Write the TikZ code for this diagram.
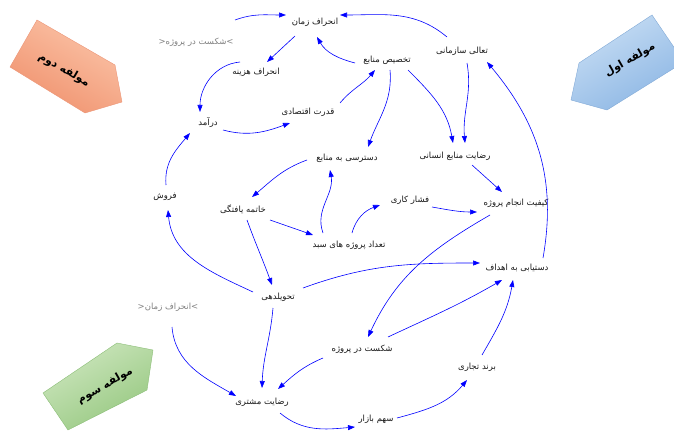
\documentclass[tikz,border=0pt]{standalone}
\usepackage{fontspec}
\setmainfont{DejaVu Sans}
\newfontfamily\arabicfont[Script=Arabic]{DejaVu Sans}
\TeXXeTstate=1
\usetikzlibrary{arrows.meta}
\definecolor{orL}{RGB}{251,196,168}
\definecolor{orD}{RGB}{240,146,110}
\definecolor{orB}{RGB}{236,150,120}
\definecolor{blL}{RGB}{200,222,244}
\definecolor{blD}{RGB}{140,182,228}
\definecolor{blB}{RGB}{130,170,215}
\definecolor{grL}{RGB}{205,230,190}
\definecolor{grD}{RGB}{150,200,128}
\definecolor{grB}{RGB}{140,190,120}
\begin{document}
\begin{tikzpicture}[x=1pt,y=1pt,
  var/.style={font=\arabicfont\fontsize{8.5}{10}\selectfont, text=black!90, inner sep=1pt},
  shadowvar/.style={var, text=black!50},
  comp/.style={font=\arabicfont\bfseries\fontsize{11}{13}\selectfont, text=black, inner sep=0pt},
  link/.style={draw=blue, line width=0.6pt, -{Triangle[length=7pt,width=5pt]}}]
\useasboundingbox (0,0) rectangle (674,-433);
\begin{scope}
\clip (0,0) rectangle (674,-433);
\shade[draw=orB, top color=orL, bottom color=orD, shading angle=-30]
  (37,-20) -- (115,-65) -- (122,-102) -- (85,-113) -- (10,-67) -- cycle;
\shade[draw=blB, top color=blL, bottom color=blD, shading angle=30]
  (571,-100) -- (579,-63) -- (652,-15) -- (684,-62) -- (607,-110) -- cycle;
\shade[draw=grB, top color=grL, bottom color=grD, shading angle=30]
  (43,-393) -- (117,-343) -- (153,-350) -- (147,-390) -- (68,-430) -- cycle;
\end{scope}
\node[comp, rotate=-30] (c2) at (64,-70) {\beginR مولفه دوم\endR};
\node[comp, rotate=30] (c1) at (630,-60) {\beginR مولفه اول\endR};
\node[comp, rotate=30] (c3) at (105,-386) {\beginR مولفه سوم\endR};

\node[var] (zt) at (315,-22) {\beginR انحراف زمان\endR};
\node[shadowvar] (shkg) at (196,-42) {<\beginR شکست در پروژه\endR>};
\node[var] (hz) at (256,-72) {\beginR انحراف هزینه\endR};
\node[var] (tkh) at (387,-60) {\beginR تخصیص منابع\endR};
\node[var] (taali) at (462,-51) {\beginR تعالی سازمانی\endR};
\node[var] (qodrat) at (308,-112) {\beginR قدرت اقتصادی\endR};
\node[var] (daramad) at (208,-123) {\beginR درآمد\endR};
\node[var] (dastresi) at (347,-158) {\beginR دسترسی به منابع\endR};
\node[var] (rezm) at (455,-156) {\beginR رضایت منابع انسانی\endR};
\node[var] (foroush) at (165,-197) {\beginR فروش\endR};
\node[var] (khateme) at (243,-209) {\beginR خاتمه یافتگی\endR};
\node[var] (feshar) at (410,-200) {\beginR فشار کاری\endR};
\node[var] (keyfiat) at (516,-203) {\beginR کیفیت انجام پروژه\endR};
\node[var] (tedad) at (349,-245) {\beginR تعداد پروژه های سبد\endR};
\node[var] (dastyabi) at (517,-268) {\beginR دستیابی به اهداف\endR};
\node[var] (tahvil) at (278,-297) {\beginR تحویلدهی\endR};
\node[shadowvar] (ztg) at (168,-307) {<\beginR انحراف زمان\endR>};
\node[var] (shk) at (362,-349) {\beginR شکست در پروژه\endR};
\node[var] (brand) at (477,-367) {\beginR برند تجاری\endR};
\node[var] (rezc) at (262,-402) {\beginR رضایت مشتری\endR};
\node[var] (sahm) at (376,-419) {\beginR سهم بازار\endR};

% connectors
\draw[link] ([shift={(39,22)}]shkg.center) to[out=20,in=180] ([shift={(-29,7)}]zt.center);
\draw[link] ([shift={(-20,-14)}]zt.center) -- ([shift={(11,10)}]hz.center);
\draw[link] ([shift={(-32,-3)}]tkh.center) to[out=165,in=-60] ([shift={(2,-15)}]zt.center);
\draw[link] ([shift={(-15,14)}]taali.center) to[out=140,in=0] ([shift={(25,7)}]zt.center);
\draw[link] ([shift={(-16,10)}]hz.center) to[out=185,in=90] ([shift={(-8,11)}]daramad.center);
\draw[link] ([shift={(15,-7)}]daramad.center) to[out=-15,in=200] ([shift={(-18,-11)}]qodrat.center);
\draw[link] ([shift={(32,9)}]qodrat.center) to[out=50,in=230] ([shift={(-12,-10)}]tkh.center);
\draw[link] ([shift={(3,-10)}]tkh.center) to[out=-85,in=70] ([shift={(21,11)}]dastresi.center);
\draw[link] ([shift={(21,-10)}]tkh.center) to[out=-45,in=100] ([shift={(-2,13)}]rezm.center);
\draw[link] ([shift={(5,-12)}]taali.center) to[out=-80,in=95] ([shift={(10,13)}]rezm.center);
\draw[link] ([shift={(17,-9)}]rezm.center) -- ([shift={(-14,11)}]keyfiat.center);
\draw[link] ([shift={(26,10)}]dastyabi.center) to[out=80,in=-50] ([shift={(25,-11)}]taali.center);
\draw[link] ([shift={(-40,-2)}]dastresi.center) to[out=200,in=40] ([shift={(9,12)}]khateme.center);
\draw[link] ([shift={(1,12)}]foroush.center) to[out=95,in=230] ([shift={(-18,-10)}]daramad.center);
\draw[link] ([shift={(27,-11)}]khateme.center) -- ([shift={(-36,10)}]tedad.center);
\draw[link] ([shift={(-26,12)}]tedad.center) to[out=110,in=-80] ([shift={(-17,-12)}]dastresi.center);
\draw[link] ([shift={(3,12)}]tedad.center) to[out=75,in=200] ([shift={(-30,-5)}]feshar.center);
\draw[link] ([shift={(22,-7)}]feshar.center) to[out=-10,in=180] ([shift={(-39,-9)}]keyfiat.center);
\draw[link] ([shift={(-26,-12)}]keyfiat.center) to[out=210,in=65] ([shift={(6,12)}]shk.center);
\draw[link] ([shift={(4,-11)}]khateme.center) to[out=-70,in=110] ([shift={(-6,12)}]tahvil.center);
\draw[link] ([shift={(-25,5)}]tahvil.center) to[out=155,in=-85] ([shift={(3,-13)}]foroush.center);
\draw[link] ([shift={(25,9)}]tahvil.center) to[out=20,in=180] ([shift={(-37,5)}]dastyabi.center);
\draw[link] ([shift={(-5,-11)}]tahvil.center) to[out=-95,in=88] ([shift={(0,14)}]rezc.center);
\draw[link] ([shift={(4,-20)}]ztg.center) to[out=-85,in=150] ([shift={(-26,6)}]rezc.center);
\draw[link] ([shift={(-39,-9)}]shk.center) to[out=203,in=42] ([shift={(16,13)}]rezc.center);
\draw[link] ([shift={(26,12)}]shk.center) to[out=25,in=210] ([shift={(-15,-12)}]dastyabi.center);
\draw[link] ([shift={(5,12)}]brand.center) to[out=60,in=-100] ([shift={(-4,-12)}]dastyabi.center);
\draw[link] ([shift={(18,-11)}]rezc.center) to[out=-40,in=185] ([shift={(-21,-8)}]sahm.center);
\draw[link] ([shift={(21,1)}]sahm.center) to[out=15,in=230] ([shift={(-10,-13)}]brand.center);
\end{tikzpicture}
\end{document}
